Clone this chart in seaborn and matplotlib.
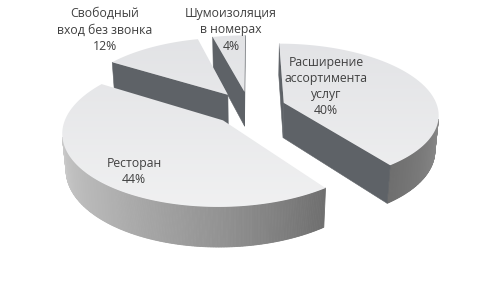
import numpy as np
import matplotlib
matplotlib.use("Agg")
import matplotlib.pyplot as plt
from matplotlib.patches import Polygon
import seaborn as sns

# ---- data ----
categories = ["Расширение\nассортимента\nуслуг", "Ресторан",
              "Свободный\nвход без звонка", "Шумоизоляция\nв номерах"]
values = [40, 44, 12, 4]
pct_labels = ["40%", "44%", "12%", "4%"]

# ---- style ----
sns.set_theme(style="white")
plt.rcParams['font.family'] = ['Open Sans', 'DejaVu Sans']

W, HP = 498, 291
fig = plt.figure(figsize=(W / 100, HP / 100), dpi=100)
ax = fig.add_axes([0, 0, 1, 1])
ax.set_xlim(0, W)
ax.set_ylim(HP, 0)
ax.axis('off')

alpha = np.radians(28)
L = 6.0
H = 0.25
e = 0.24
Sx, Sy = 151, 156
cx0, cy0 = 249, 143
cam = np.array([0.0, L * np.sin(alpha), L * np.cos(alpha)])

def proj(X, Y, Z):
    X, Y, Z = np.asarray(X, float), np.asarray(Y, float), np.asarray(Z, float)
    depth = L - (Y * np.sin(alpha) + Z * np.cos(alpha))
    u = X * L / depth
    v = (Y * np.cos(alpha) - Z * np.sin(alpha)) * L / depth
    return cx0 + Sx * u, cy0 - Sy * v

top_cmap = sns.blend_palette(["#dfe0e3", "#f7f7f7"], as_cmap=True)
wall_cmap = sns.blend_palette(["#6c6c6c", "#e2e2e2"], as_cmap=True)
dark_wall = "#5e6267"
text_color = "#404040"

# shading of outer wall as a function of angle (deg, clockwise from back)
shade_t = [60, 90, 144, 180, 220, 270, 320]
shade_g = [0.45, 0.33, 0.02, 0.33, 0.60, 0.85, 0.9]

fracs = np.array(values, float) / np.sum(values)
bounds = np.concatenate([[0], np.cumsum(fracs) * 360])

slices = []
for i, v in enumerate(values):
    t1, t2 = bounds[i], bounds[i + 1]
    tm = np.radians((t1 + t2) / 2)
    O = np.array([e * np.sin(tm), -e * np.cos(tm)])  # (X, Z)
    slices.append((i, t1, t2, O))

# draw back slices first
slices.sort(key=lambda s: s[3][1])

grad = np.linspace(40, 215, 256).reshape(-1, 1)

for i, t1, t2, O in slices:
    th = np.radians(np.linspace(t1, t2, max(int((t2 - t1) * 2), 8)))
    ax_ = O[0] + np.sin(th)
    az_ = O[1] - np.cos(th)
    # outer wall as strips
    xt, yt = proj(ax_, np.full_like(ax_, H), az_)
    xb, yb = proj(ax_, np.zeros_like(ax_), az_)
    thd = np.degrees(th)
    for k in range(len(th) - 1):
        nx, nz = np.sin((th[k] + th[k + 1]) / 2), -np.cos((th[k] + th[k + 1]) / 2)
        P = np.array([(ax_[k] + ax_[k + 1]) / 2, H / 2, (az_[k] + az_[k + 1]) / 2])
        if nx * (cam[0] - P[0]) + nz * (cam[2] - P[2]) <= 0:
            continue
        g = np.interp((thd[k] + thd[k + 1]) / 2, shade_t, shade_g)
        col = wall_cmap(g)
        poly = [(xt[k], yt[k]), (xt[k + 1], yt[k + 1]), (xb[k + 1], yb[k + 1]), (xb[k], yb[k])]
        ax.add_patch(Polygon(poly, closed=True, facecolor=col, edgecolor=col, lw=0.6, zorder=2))
    # radial faces
    for t, sgn in ((t1, -1), (t2, 1)):
        r = np.radians(t)
        d = np.array([np.sin(r), -np.cos(r)])
        n = sgn * np.array([np.cos(r), np.sin(r)])
        P = O + 0.5 * d
        if n[0] * (cam[0] - P[0]) + n[1] * (cam[2] - P[1]) <= 0.02:
            continue
        E = O + d
        x1, y1 = proj([O[0], E[0], E[0], O[0]], [H, H, 0, 0], [O[1], E[1], E[1], O[1]])
        ax.add_patch(Polygon(np.column_stack([x1, y1]), closed=True,
                             facecolor=dark_wall, edgecolor=dark_wall, lw=0.4, zorder=2))
    # top face with vertical gradient
    tx, ty = proj(np.concatenate([[O[0]], ax_]), np.full(len(ax_) + 1, H),
                  np.concatenate([[O[1]], az_]))
    top = Polygon(np.column_stack([tx, ty]), closed=True, facecolor='none',
                  edgecolor='none', zorder=3)
    ax.add_patch(top)
    im = ax.imshow(grad, cmap=top_cmap, extent=(0, W, HP, 0), origin='upper',
                   aspect='auto', zorder=3, interpolation='bilinear')
    im.set_clip_path(top)

ax.set_xlim(0, W)
ax.set_ylim(HP, 0)

label_pos = [(326, 86.5), (134, 171.5), (105, 30), (231, 30)]
for cat, pct, (x, y) in zip(categories, pct_labels, label_pos):
    ax.text(x, y, f"{cat}\n{pct}", ha='center', va='center', fontsize=8.8,
            color=text_color, linespacing=1.33, zorder=5)

fig.savefig("out.png", dpi=100, facecolor="white")
